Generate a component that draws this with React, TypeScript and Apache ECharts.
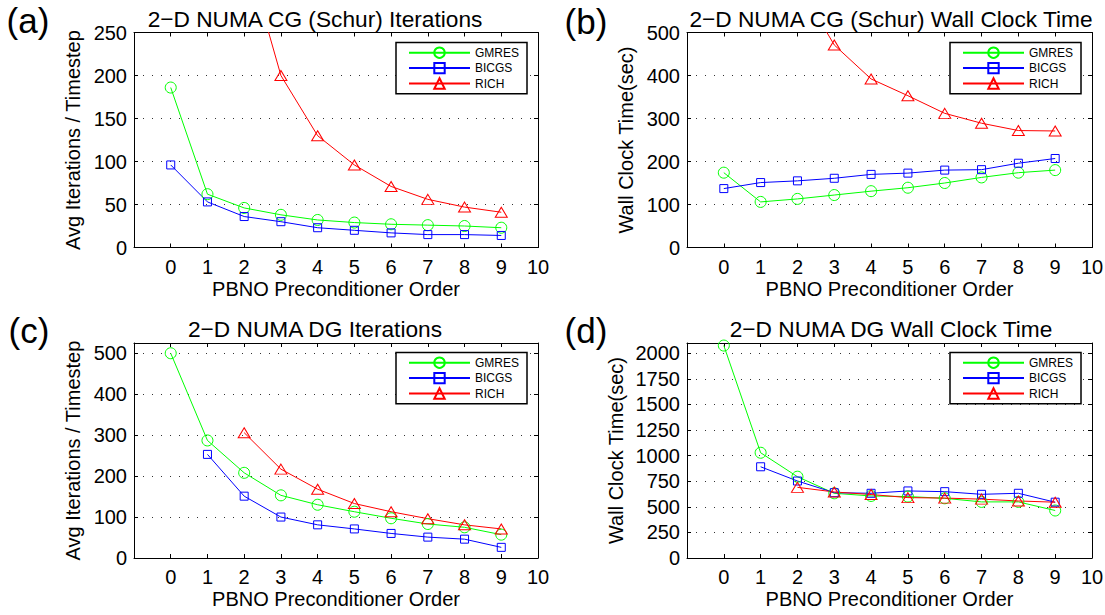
import React, { useEffect, useRef } from "react";
import * as echarts from "echarts";

// ---------- data ----------
const orders = [0, 1, 2, 3, 4, 5, 6, 7, 8, 9];
const seriesNames = ["GMRES", "BICGS", "RICH"];

const cgIterGmres = [186, 62, 46, 38, 32, 29, 27, 26, 25, 23];
const cgIterBicgs = [96, 53, 36, 30, 23, 20, 17, 15, 15, 14];
const cgIterRich = [null, null, 350, 200, 130, 96, 71, 56, 47, 41];

const cgTimeGmres = [174, 106, 113, 122, 131, 139, 150, 163, 174, 180];
const cgTimeBicgs = [137, 151, 155, 161, 170, 173, 180, 181, 196, 207];
const cgTimeRich = [null, null, 616, 471, 392, 353, 312, 289, 272, 271];

const dgIterGmres = [500, 287, 208, 153, 130, 113, 97, 83, 75, 57];
const dgIterBicgs = [null, 253, 151, 100, 81, 71, 60, 51, 46, 26];
const dgIterRich = [null, null, 306, 217, 168, 133, 113, 96, 81, 71];

const dgTimeGmres = [2075, 1028, 794, 632, 606, 600, 583, 548, 548, 464];
const dgTimeBicgs = [null, 891, 752, 638, 632, 655, 648, 622, 632, 545];
const dgTimeRich = [null, null, 690, 645, 620, 590, 585, 575, 557, 545];

const panelLabels = ["(a)", "(b)", "(c)", "(d)"];
const panelTitles = [
  "2\u2212D NUMA CG (Schur) Iterations",
  "2\u2212D NUMA CG (Schur) Wall Clock Time",
  "2\u2212D NUMA DG Iterations",
  "2\u2212D NUMA DG Wall Clock Time",
];
const yNames = [
  "Avg Iterations / Timestep",
  "Wall Clock Time(sec)",
  "Avg Iterations / Timestep",
  "Wall Clock Time(sec)",
];
const xName = "PBNO Preconditioner Order";
const xMin = -1;
const xMax = 10;
const yMaxes = [250, 500, 525, 2100];
const yIntervals = [50, 100, 100, 250];

const panelData = [
  [cgIterGmres, cgIterBicgs, cgIterRich],
  [cgTimeGmres, cgTimeBicgs, cgTimeRich],
  [dgIterGmres, dgIterBicgs, dgIterRich],
  [dgTimeGmres, dgTimeBicgs, dgTimeRich],
];

// ---------- styles ----------
const FONT = "'Liberation Sans', Arial, Helvetica, sans-serif";
const colors = ["#00ff00", "#0000ff", "#ff0000"];
const symbols = ["circle", "rect", "triangle"];
const symbolSizes: any[] = [11, 8, [12, 10]];

const grids = [
  { left: 134, top: 32.5, width: 404, height: 215 },
  { left: 687, top: 32.5, width: 405, height: 215 },
  { left: 134, top: 343, width: 404, height: 215 },
  { left: 687, top: 343, width: 405, height: 215 },
];
const yNameGaps = [51, 51, 51, 61];
const legendPos = [
  { left: 396, top: 42.5 },
  { left: 950, top: 42.5 },
  { left: 396, top: 352.5 },
  { left: 950, top: 352.5 },
];
const labelPos = [
  { x: 28, y: 20 },
  { x: 586, y: 21 },
  { x: 29, y: 330 },
  { x: 586, y: 330 },
];
const titlePos = [
  { x: 315, y: 18.5 },
  { x: 891, y: 18.5 },
  { x: 315, y: 328.5 },
  { x: 891, y: 328.5 },
];

function buildOption() {
  const xAxis: any[] = [];
  const yAxis: any[] = [];
  const series: any[] = [];
  const legend: any[] = [];
  const graphic: any[] = [];

  for (let p = 0; p < 4; p++) {
    const interval = yIntervals[p];
    xAxis.push({
      type: "value",
      gridIndex: p,
      position: "bottom",
      min: xMin,
      max: xMax,
      interval: 1,
      name: xName,
      nameLocation: "middle",
      nameGap: 31,
      nameTextStyle: { fontFamily: FONT, fontSize: 20, color: "#000" },
      axisLine: { show: true, onZero: false, lineStyle: { color: "#000", width: 1 } },
      axisTick: { show: true, inside: true, length: 4, lineStyle: { color: "#000" } },
      axisLabel: {
        fontFamily: FONT,
        fontSize: 20,
        color: "#000",
        margin: 9,
        formatter: (v: number) => (v < 0 ? "" : String(v)),
      },
      splitLine: { show: false },
    });
    xAxis.push({
      type: "value",
      gridIndex: p,
      position: "top",
      min: xMin,
      max: xMax,
      interval: 1,
      axisLine: { show: true, onZero: false, lineStyle: { color: "#000", width: 1 } },
      axisTick: { show: true, inside: true, length: 4, lineStyle: { color: "#000" } },
      axisLabel: { show: false },
      splitLine: { show: false },
    });
    yAxis.push({
      type: "value",
      gridIndex: p,
      position: "left",
      min: 0,
      max: yMaxes[p],
      interval,
      name: yNames[p],
      nameLocation: "middle",
      nameGap: yNameGaps[p],
      nameTextStyle: { fontFamily: FONT, fontSize: 20, color: "#000" },
      axisLine: { show: true, onZero: false, lineStyle: { color: "#000", width: 1 } },
      axisTick: { show: true, inside: true, length: 4, lineStyle: { color: "#000" } },
      axisLabel: {
        fontFamily: FONT,
        fontSize: 20,
        color: "#000",
        margin: 7,
        formatter: (v: number) => (v % interval === 0 ? String(v) : ""),
      },
      splitLine: {
        show: true,
        lineStyle: { color: "#333", width: 1, type: [1, 8] },
      },
    });
    yAxis.push({
      type: "value",
      gridIndex: p,
      position: "right",
      min: 0,
      max: yMaxes[p],
      interval,
      axisLine: { show: true, onZero: false, lineStyle: { color: "#000", width: 1 } },
      axisTick: { show: true, inside: true, length: 4, lineStyle: { color: "#000" } },
      axisLabel: { show: false },
      splitLine: { show: false },
    });

    for (let s = 0; s < 3; s++) {
      const vals = panelData[p][s];
      series.push({
        type: "line",
        name: seriesNames[s],
        xAxisIndex: p * 2,
        yAxisIndex: p * 2,
        data: orders.map((x, i) => [x, vals[i]]),
        symbol: symbols[s],
        symbolSize: symbolSizes[s],
        showAllSymbol: true,
        clip: true,
        silent: true,
        emphasis: { disabled: true },
        lineStyle: { color: colors[s], width: 1 },
        itemStyle: { color: "rgba(0,0,0,0)", borderColor: colors[s], borderWidth: 1 },
      });
    }

    legend.push({
      orient: "vertical",
      left: legendPos[p].left,
      top: legendPos[p].top,
      data: seriesNames,
      itemWidth: 61,
      itemHeight: 13,
      itemGap: 3,
      itemTextGap: 6,
      padding: [4, 8, 4, 12],
      borderColor: "#000",
      borderWidth: 1.5,
      backgroundColor: "#fff",
      selectedMode: false,
      textStyle: { fontFamily: FONT, fontSize: 12, color: "#000" },
      z: 10,
    });

    graphic.push({
      type: "text",
      x: labelPos[p].x,
      y: labelPos[p].y,
      style: {
        text: panelLabels[p],
        fontFamily: FONT,
        fontSize: 35,
        fill: "#000",
        textAlign: "center",
        textVerticalAlign: "middle",
      },
    });
    graphic.push({
      type: "text",
      x: titlePos[p].x,
      y: titlePos[p].y,
      style: {
        text: panelTitles[p],
        fontFamily: FONT,
        fontSize: 22.7,
        fill: "#000",
        textAlign: "center",
        textVerticalAlign: "middle",
      },
    });
  }

  return {
    animation: false,
    backgroundColor: "#fff",
    grid: grids.map((g) => ({ ...g, containLabel: false, outerBoundsMode: "none" })),
    xAxis,
    yAxis,
    series,
    legend,
    graphic,
  };
}

export default function App() {
  const ref = useRef<HTMLDivElement>(null);
  useEffect(() => {
    if (!ref.current) return;
    const chart = echarts.init(ref.current, null, { renderer: "svg" });
    chart.setOption(buildOption() as any);
    return () => chart.dispose();
  }, []);
  return (
    <div
      ref={ref}
      style={{ position: "fixed", left: 0, top: 0, width: 1105, height: 615, background: "#fff" }}
    />
  );
}
